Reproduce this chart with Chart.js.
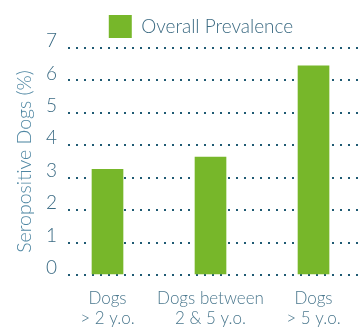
<!DOCTYPE html>
<html>
<head>
<meta charset="utf-8">
<script src="https://cdn.jsdelivr.net/npm/chart.js@4"></script>
<style>
    html, body { margin: 0; padding: 0; background: #fff; overflow: hidden; }
    #wrap { width: 361px; height: 331px; }
</style>
</head>
<body>
<div id="wrap"><canvas id="chart" width="361" height="331"></canvas></div>
<script>
// Seropositivity by age group
const categories = [['Dogs', '> 2 y.o.'], ['Dogs between', '2 & 5 y.o.'], ['Dogs', '> 5 y.o.']];
const prevalence = [3.26, 3.64, 6.45];
const yTicks = [0, 1, 2, 3, 4, 5, 6, 7];

const GREEN = '#77b72a';
const DOT = '#1f5a73';
const FONT = 'Lato, "Open Sans", sans-serif';

// nudge the legend a bit to the right of centre
const legendShift = {
    id: 'legendShift',
    afterLayout: (chart) => {
        chart.legend.left += 41;
    },
};

new Chart(document.getElementById('chart').getContext('2d'), {
    type: 'bar',
    data: {
        datasets: [
            {
                label: 'Overall Prevalence',
                data: prevalence.map((v, i) => ({ x: i, y: v })),
                backgroundColor: GREEN,
                borderWidth: 0,
                barThickness: 31,
            },
        ],
    },
    options: {
        responsive: false,
        animation: false,
        layout: {
            padding: { top: 3, left: 0, right: 0, bottom: 0 },
        },
        plugins: {
            legend: {
                display: true,
                position: 'top',
                labels: {
                    boxWidth: 23,
                    boxHeight: 23,
                    padding: 12,
                    color: '#3b6a82',
                    font: { family: FONT, size: 19, weight: 300 },
                },
            },
            tooltip: { enabled: false },
        },
        scales: {
            x: {
                type: 'linear',
                offset: false,
                min: -0.3835,
                max: 2.461,
                afterBuildTicks: (scale) => {
                    scale.ticks = categories.map((_, i) => ({ value: i }));
                },
                afterFit: (scale) => {
                    scale.height = 56;
                },
                grid: { display: false, drawTicks: false, offset: false },
                border: { display: false },
                ticks: {
                    padding: 13,
                    maxRotation: 0,
                    autoSkip: false,
                    color: '#4b788e',
                    font: { family: FONT, size: 17, weight: 300, lineHeight: 1.2 },
                    callback: (value) => categories[value],
                },
            },
            y: {
                min: 0,
                max: 7,
                afterBuildTicks: (scale) => {
                    scale.ticks = yTicks.map((v) => ({ value: v }));
                },
                afterFit: (scale) => {
                    scale.width = 68;
                },
                grid: {
                    color: DOT,
                    lineWidth: 2,
                    drawTicks: false,
                },
                border: { display: false, dash: [2, 6] },
                ticks: {
                    padding: 11,
                    labelOffset: -7,
                    color: '#3b6b84',
                    font: { family: FONT, size: 19, weight: 300 },
                },
                title: {
                    display: true,
                    text: 'Seropositive Dogs (%)',
                    color: '#4f87a3',
                    padding: { top: 13, bottom: 0 },
                    font: { family: FONT, size: 19.5, weight: 300 },
                },
            },
        },
    },
    plugins: [legendShift],
});
</script>
</body>
</html>
